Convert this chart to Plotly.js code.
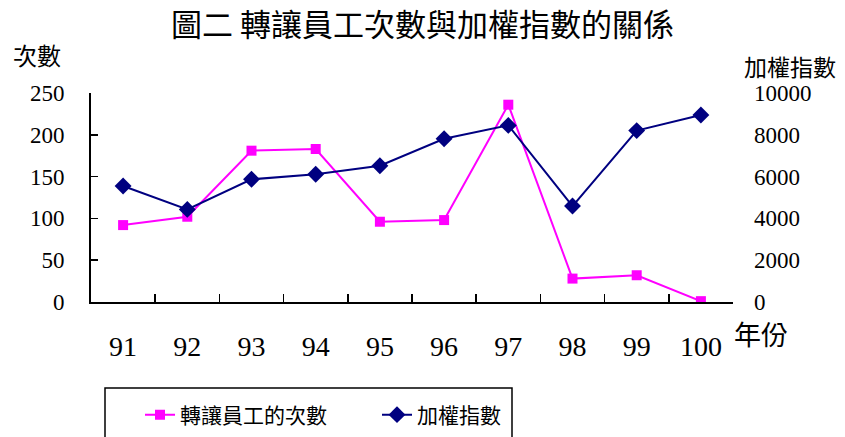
<!DOCTYPE html>
<html><head><meta charset="utf-8">
<script src="https://cdn.plot.ly/plotly-3.0.1.min.js"></script>
<style>body{margin:0;background:#fff}#c{width:845px;height:437px}</style>
</head><body><div id="c"></div>
<script>
const years = ['91','92','93','94','95','96','97','98','99','100'];
const transferCounts = [92, 102, 181, 183, 96, 98, 236, 28, 32, 1];
const weightedIndex = [5550, 4430, 5870, 6110, 6520, 7810, 8450, 4590, 8200, 8950];
const leftTicks = [0, 50, 100, 150, 200, 250];
const rightTicks = [0, 2000, 4000, 6000, 8000, 10000];

const CJK = '"Noto Sans CJK TC", sans-serif';
const SERIF = '"Liberation Serif", "DejaVu Serif", serif';

const traces = [
  {x: years, y: transferCounts, name: '轉讓員工的次數', type: 'scatter', mode: 'lines+markers',
   line: {color: '#FF00FF', width: 2}, marker: {symbol: 'square', size: 10, color: '#FF00FF'}},
  {x: years, y: weightedIndex, name: '加權指數', type: 'scatter', mode: 'lines+markers', yaxis: 'y2',
   line: {color: '#000080', width: 2}, marker: {symbol: 'diamond', size: 13, color: '#000080'}}
];

const plotL = 91, plotR = 733, plotT = 93, plotB = 302;
const pw = plotR - plotL, ph = plotB - plotT;
const px = v => (v - plotL) / pw;
const py = v => (plotB - v) / ph;

const layout = {
  width: 845, height: 437,
  margin: {l: plotL, r: 845 - plotR, t: plotT, b: 437 - plotB, autoexpand: false},
  paper_bgcolor: '#fff', plot_bgcolor: '#fff',
  showlegend: true,
  title: {text: '圖二 轉讓員工次數與加權指數的關係', font: {family: CJK, size: 31, color: '#000'},
          x: 0.5, xanchor: 'center', y: 1 - 25/437, yanchor: 'middle'},
  xaxis: {type: 'category', showline: true, linecolor: '#000', linewidth: 2, showgrid: false,
          zeroline: false, ticks: 'inside', ticklen: 8, tickwidth: 1.5, tickcolor: '#000',
          tickson: 'boundaries', ticklabelstandoff: 18,
          tickfont: {family: SERIF, size: 28, color: '#000'}, range: [-0.5, 9.5], fixedrange: true},
  yaxis: {range: [0, 250], tickvals: leftTicks, showline: true, linecolor: '#000', linewidth: 2,
          showgrid: false, zeroline: false, ticks: 'inside', ticklen: 7, tickwidth: 1.5, tickcolor: '#000',
          ticklabelstandoff: 20, tickfont: {family: SERIF, size: 23, color: '#000'}},
  yaxis2: {range: [0, 10000], tickvals: rightTicks, tickformat: 'd', overlaying: 'y', side: 'right', showline: false,
           showgrid: false, zeroline: false, ticks: '', ticklabelstandoff: 20,
           tickfont: {family: SERIF, size: 23, color: '#000'}},
  legend: {orientation: 'h', x: px(140), y: py(415), xanchor: 'left', yanchor: 'middle',
           font: {family: CJK, size: 21, color: '#000'}, bgcolor: 'rgba(0,0,0,0)', borderwidth: 0,
           entrywidth: 192, entrywidthmode: 'pixels'},
  shapes: [{type: 'rect', xref: 'paper', yref: 'paper', x0: px(105), x1: px(512), y0: py(388), y1: py(450),
            line: {color: '#000', width: 1.5}, fillcolor: 'rgba(0,0,0,0)'}],
  annotations: [
    {text: '次數', xref: 'paper', yref: 'paper', x: px(37), y: py(55), xanchor: 'center', yanchor: 'middle',
     showarrow: false, font: {family: CJK, size: 24, color: '#000'}},
    {text: '加權指數', xref: 'paper', yref: 'paper', x: px(790), y: py(66), xanchor: 'center', yanchor: 'middle',
     showarrow: false, font: {family: CJK, size: 23, color: '#000'}},
    {text: '年份', xref: 'paper', yref: 'paper', x: px(761), y: py(333), xanchor: 'center', yanchor: 'middle',
     showarrow: false, font: {family: CJK, size: 27, color: '#000'}}
  ]
};
Plotly.newPlot('c', traces, layout, {displayModeBar: false, staticPlot: true});
</script></body></html>
